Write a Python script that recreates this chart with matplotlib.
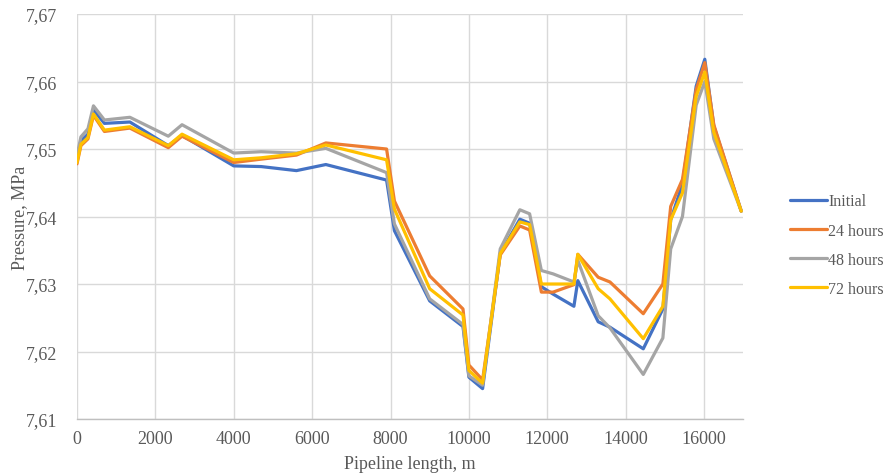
import matplotlib
matplotlib.use("Agg")
import matplotlib.pyplot as plt
from matplotlib.ticker import FuncFormatter, MultipleLocator

# Pipeline distance (m) at which pressure was computed
length_m = [0, 100, 280, 420, 700, 1350, 2330, 2680, 4000, 4700, 5600, 6350,
            7900, 8100, 9000, 9850, 10000, 10350, 10800, 11300, 11550, 11850,
            12150, 12680, 12780, 13300, 13600, 14450, 14950, 15150, 15450,
            15800, 16020, 16250, 16950]

# Pressure, MPa
p_initial = [7.6485, 7.6512, 7.6522, 7.6558, 7.6538, 7.6540, 7.6505, 7.6520,
             7.6475, 7.6474, 7.6468, 7.6477, 7.6454, 7.6379, 7.6275, 7.6237,
             7.6162, 7.6145, 7.6345, 7.6396, 7.6390, 7.6296, 7.6285, 7.6267,
             7.6305, 7.6244, 7.6236, 7.6204, 7.6263, 7.6395, 7.6448, 7.6593,
             7.6633, 7.6534, 7.6408]
p_24h = [7.6478, 7.6505, 7.6515, 7.6550, 7.6526, 7.6531, 7.6502, 7.6519,
         7.6480, 7.6485, 7.6491, 7.6509, 7.6500, 7.6423, 7.6312, 7.6263,
         7.6180, 7.6158, 7.6343, 7.6386, 7.6380, 7.6288, 7.6288, 7.6299,
         7.6344, 7.6310, 7.6303, 7.6256, 7.6300, 7.6415, 7.6455, 7.6588,
         7.6628, 7.6536, 7.6408]
p_48h = [7.6490, 7.6518, 7.6530, 7.6564, 7.6543, 7.6547, 7.6519, 7.6536,
         7.6494, 7.6496, 7.6494, 7.6501, 7.6465, 7.6389, 7.6278, 7.6240,
         7.6164, 7.6150, 7.6352, 7.6410, 7.6404, 7.6320, 7.6315, 7.6303,
         7.6335, 7.6253, 7.6235, 7.6166, 7.6220, 7.6352, 7.6400, 7.6565,
         7.6600, 7.6515, 7.6408]
p_72h = [7.6480, 7.6507, 7.6517, 7.6552, 7.6528, 7.6533, 7.6505, 7.6522,
         7.6484, 7.6487, 7.6493, 7.6506, 7.6484, 7.6411, 7.6293, 7.6254,
         7.6172, 7.6153, 7.6345, 7.6392, 7.6388, 7.6300, 7.6300, 7.6300,
         7.6344, 7.6293, 7.6278, 7.6219, 7.6267, 7.6395, 7.6435, 7.6578,
         7.6614, 7.6525, 7.6408]

series_labels = ["Initial", "24 hours", "48 hours", "72 hours"]
series_values = [p_initial, p_24h, p_48h, p_72h]
series_colors = ["#4472C4", "#ED7D31", "#A5A5A5", "#FFC000"]

plt.rcParams["font.family"] = ["Liberation Serif", "DejaVu Serif"]
text_color = "#595959"

fig = plt.figure(figsize=(8.89, 4.77), dpi=100)
ax = fig.add_axes([0.0866, 0.1195, 0.7494, 0.849])

for label, values, color in zip(series_labels, series_values, series_colors):
    ax.plot(length_m, values, color=color, lw=2.3, label=label,
            solid_joinstyle="round", solid_capstyle="round")

ax.set_xlim(0, 17000)
ax.set_ylim(7.61, 7.67)
ax.xaxis.set_major_locator(MultipleLocator(2000))
ax.yaxis.set_major_locator(MultipleLocator(0.01))
ax.yaxis.set_major_formatter(FuncFormatter(lambda v, _: f"{v:.2f}".replace(".", ",")))

ax.grid(True, color="#d9d9d9", lw=1.0)
ax.set_axisbelow(True)
for side in ("top", "right", "left"):
    ax.spines[side].set_visible(False)
ax.spines["bottom"].set_color("#bfbfbf")
ax.spines["bottom"].set_linewidth(1.0)

ax.tick_params(axis="both", length=0, labelsize=13, colors=text_color)
ax.tick_params(axis="x", pad=8)
ax.tick_params(axis="y", pad=14)

ax.set_xlabel("Pipeline length, m", fontsize=13, color=text_color, labelpad=6)
ax.set_ylabel("Pressure, MPa", fontsize=13, color=text_color)
ax.yaxis.set_label_coords(-0.074, 0.5)

ax.legend(loc="center left", bbox_to_anchor=(790 / 889, 0.484),
          bbox_transform=fig.transFigure, frameon=False, fontsize=11.5,
          handlelength=2.3, handletextpad=0.1, labelspacing=0.82,
          borderpad=0, borderaxespad=0, labelcolor=text_color)

fig.savefig("out.png", dpi=100)
